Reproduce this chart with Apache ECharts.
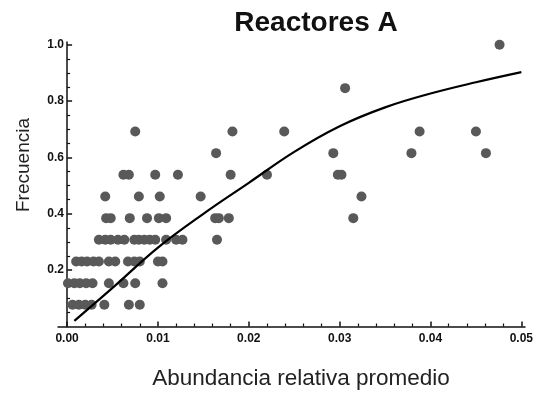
<!DOCTYPE html>
<html>
<head>
<meta charset="utf-8">
<script src="https://cdn.jsdelivr.net/npm/echarts@6/dist/echarts.min.js"></script>
<style>html,body{margin:0;padding:0;background:#fff}#c{width:539px;height:398px}</style>
</head>
<body>
<div id="c"></div>
<script>
// Frequency levels (k/13) and the abundances of the points on each level
const level1 = [0.0006, 0.0013, 0.0020, 0.0027, 0.0041, 0.0068, 0.0080];
const level2 = [0.0001, 0.0008, 0.0014, 0.0021, 0.0028, 0.0046, 0.0062, 0.0075, 0.0105];
const level3 = [0.0010, 0.0016, 0.0022, 0.0029, 0.0035, 0.0046, 0.0053, 0.0067, 0.0074, 0.0080, 0.0100, 0.0105];
const level4 = [0.0035, 0.0042, 0.0048, 0.0056, 0.0063, 0.0074, 0.0079, 0.0085, 0.0091, 0.0097, 0.0109, 0.0120, 0.0127, 0.0165];
const level5 = [0.0043, 0.0048, 0.0069, 0.0088, 0.0101, 0.0109, 0.0163, 0.0167, 0.0178, 0.0315];
const level6 = [0.0042, 0.0079, 0.0102, 0.0147, 0.0324];
const level7 = [0.0062, 0.0068, 0.0097, 0.0122, 0.0180, 0.0220, 0.0298, 0.0302];
const level8 = [0.0164, 0.0293, 0.0379, 0.0461];
const level9 = [0.0075, 0.0182, 0.0239, 0.0388, 0.0450];
const level11 = [0.0306];
const level13 = [0.0476];
const levelValues = [1/13, 2/13, 3/13, 4/13, 5/13, 6/13, 7/13, 8/13, 9/13, 11/13, 13/13];
const levelPoints = [level1, level2, level3, level4, level5, level6, level7, level8, level9, level11, level13];

// Fitted curve
const curveX = [0.0008, 0.005, 0.010, 0.015, 0.020, 0.025, 0.030, 0.035, 0.040, 0.045, 0.050];
const curveY = [0.020, 0.137, 0.280, 0.400, 0.510, 0.620, 0.711, 0.778, 0.827, 0.867, 0.903];

// Ticks
const xMajor = [0, 0.01, 0.02, 0.03, 0.04, 0.05];
const xMinor = [0.002,0.004,0.006,0.008,0.012,0.014,0.016,0.018,0.022,0.024,0.026,0.028,0.032,0.034,0.036,0.038,0.042,0.044,0.046,0.048];
const yMajor = [0.2, 0.4, 0.6, 0.8, 1.0];
const yMinor = [0.05,0.1,0.15,0.25,0.3,0.35,0.45,0.5,0.55,0.65,0.7,0.75,0.85,0.9,0.95];

const scatterData = [];
levelPoints.forEach((arr, i) => arr.forEach(x => scatterData.push([x, levelValues[i]])));
const curveData = curveX.map((x, i) => [x, curveY[i]]);

const FONT = "'Liberation Sans', Arial, sans-serif";
const chart = echarts.init(document.getElementById('c'), null, {renderer: 'canvas'});
const xBase = {type: 'value', min: -0.001, max: 0.0504, splitLine: {show: false}};
const yBase = {type: 'value', min: 0, max: 1.01, splitLine: {show: false}};
chart.setOption({
  animation: false,
  backgroundColor: '#ffffff',
  grid: {left: 58, right: 14, top: 42, bottom: 71.5},
  xAxis: [
    Object.assign({}, xBase, {
      axisLine: {show: true, onZero: false, lineStyle: {color: '#111', width: 1.5}},
      axisTick: {show: true, inside: true, length: 5, customValues: xMajor, lineStyle: {color: '#111', width: 1.5}},
      axisLabel: {show: true, customValues: xMajor, margin: 6, color: '#111', fontFamily: FONT, fontWeight: 'bold', fontSize: 12,
        formatter: v => v.toFixed(2)}
    }),
    Object.assign({}, xBase, {
      position: 'bottom',
      axisLine: {show: false, onZero: false},
      axisTick: {show: true, inside: true, length: 3, customValues: xMinor, lineStyle: {color: '#111', width: 1.2}},
      axisLabel: {show: false}
    })
  ],
  yAxis: [
    Object.assign({}, yBase, {
      position: 'left',
      axisLine: {show: true, onZero: true, onZeroAxisIndex: 0, lineStyle: {color: '#111', width: 1.5}},
      axisTick: {show: true, inside: true, length: 5, customValues: yMajor, lineStyle: {color: '#111', width: 1.5}},
      axisLabel: {show: true, customValues: yMajor, margin: -6, color: '#111', fontFamily: FONT, fontWeight: 'bold', fontSize: 12,
        formatter: v => v.toFixed(1)}
    }),
    Object.assign({}, yBase, {
      position: 'left',
      axisLine: {show: false, onZero: true, onZeroAxisIndex: 0},
      axisTick: {show: true, inside: true, length: 3, customValues: yMinor, lineStyle: {color: '#111', width: 1.2}},
      axisLabel: {show: false}
    })
  ],
  graphic: [
    {type: 'text', x: 316, y: 23, style: {text: 'Reactores A', fill: '#111', font: "bold 28px " + FONT, textAlign: 'center', textVerticalAlign: 'middle'}},
    {type: 'text', x: 301, y: 379, style: {text: 'Abundancia relativa promedio', fill: '#222', font: "22.5px " + FONT, textAlign: 'center', textVerticalAlign: 'middle'}},
    {type: 'text', x: 24, y: 165, rotation: Math.PI / 2, style: {text: 'Frecuencia', fill: '#222', font: "19px " + FONT, textAlign: 'center', textVerticalAlign: 'middle'}}
  ],
  series: [
    {type: 'scatter', xAxisIndex: 0, yAxisIndex: 0, data: scatterData, symbol: 'circle', symbolSize: 10,
      itemStyle: {color: '#595959', opacity: 1}, z: 2},
    {type: 'line', xAxisIndex: 0, yAxisIndex: 0, data: curveData, smooth: 0.4, showSymbol: false, symbol: 'none',
      lineStyle: {color: '#000', width: 2.2}, z: 3}
  ]
});
</script>
</body>
</html>
